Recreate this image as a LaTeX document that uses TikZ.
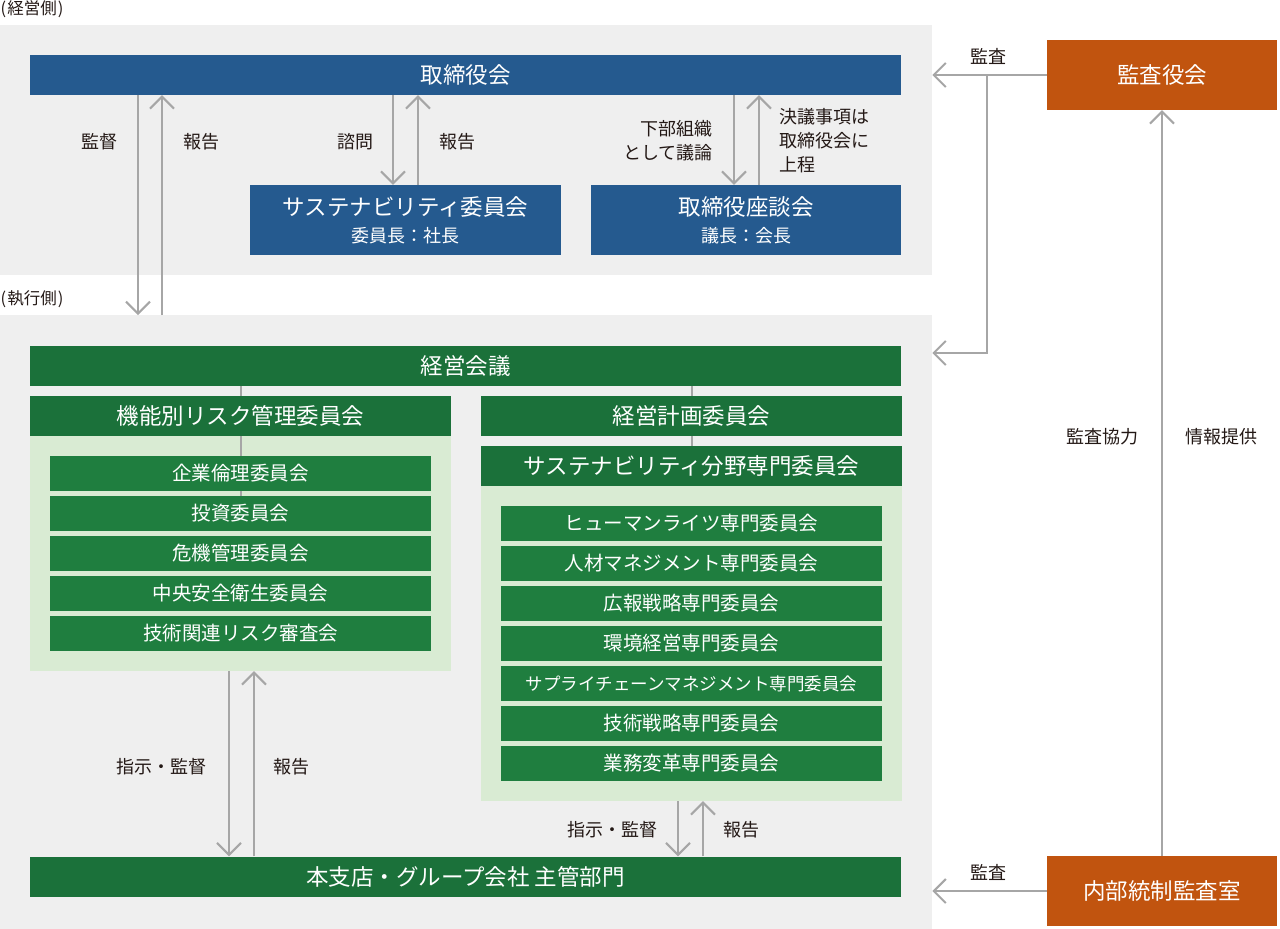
\documentclass[tikz,border=0pt]{standalone}
\usepackage{fontspec}
\setmainfont{Noto Sans CJK JP}
\usetikzlibrary{arrows.meta}
\definecolor{blueb}{HTML}{255A8F}
\definecolor{greenbar}{HTML}{1B713A}
\definecolor{greenin}{HTML}{1F7E3F}
\definecolor{lightg}{HTML}{D9EBD3}
\definecolor{panelg}{HTML}{EFEFEF}
\definecolor{orangeb}{HTML}{C1540F}
\definecolor{arrowg}{HTML}{A6A6A6}
\definecolor{txt}{HTML}{231815}
\tikzset{
  box/.style={rectangle, inner sep=0pt, text=white},
  bigf/.style={font=\fontsize{22.5}{27}\selectfont},
  innf/.style={font=\fontsize{19.5}{23}\selectfont},
  panel/.style={rectangle, inner sep=0pt, fill=panelg, anchor=north west},
  lpanel/.style={rectangle, inner sep=0pt, fill=lightg},
  bluebox/.style={box, bigf, fill=blueb},
  orbox/.style={box, bigf, fill=orangeb, minimum width=230pt, minimum height=70pt},
  gbar/.style={box, bigf, fill=greenbar, minimum height=40pt},
  gin/.style={box, innf, fill=greenin, minimum width=381pt, minimum height=35pt},
  lbl/.style={inner sep=0pt, text=txt, font=\fontsize{18}{24}\selectfont},
  side/.style={inner sep=0pt, text=txt, font=\fontsize{16.5}{18}\selectfont, anchor=west},
  arr/.style={draw=arrowg, line width=2pt, -{Straight Barb[length=12pt,width=24pt]}},
  conn/.style={draw=arrowg, line width=2pt}
}
\begin{document}
\begin{tikzpicture}[x=1pt,y=-1pt]
\useasboundingbox (0,0) rectangle (1280,929);
% panels
\node[panel, minimum width=932pt, minimum height=250pt] (toppanel) at (0,25) {};
\node[panel, minimum width=932pt, minimum height=614pt] (botpanel) at (0,315) {};
\node[side] (keieigawa) at (0.5,9) {(\kern1pt 経営側\kern1pt)};
\node[side] (shikkogawa) at (0.5,299) {(\kern1pt 執行側\kern1pt)};
% board level
\node[bluebox, minimum width=871pt, minimum height=40pt] (tori) at (465.5,75) {取締役会};
\node[bluebox, minimum width=311pt, minimum height=70pt, align=center] (sus) at (405.5,220)
  {サステナビリティ委員会\\{\fontsize{18}{20}\selectfont 委員長：社長}};
\node[bluebox, minimum width=310pt, minimum height=70pt, align=center] (zadan) at (746,220)
  {取締役座談会\\{\fontsize{18}{20}\selectfont 議長：会長}};
\node[orbox] (kansayaku) at (1162,75) {監査役会};
\node[orbox] (naibu) at (1162,891) {内部統制監査室};
% executive
\node[gbar, minimum width=871pt] (keieikaigi) at (465.5,366) {経営会議};
\node[gbar, minimum width=421pt] (kinou) at (240.5,416) {機能別リスク管理委員会};
\node[lpanel, minimum width=421pt, minimum height=235pt] (lp1) at (240.5,553.5) {};
\node[gin] (k1) at (240.5,473.5) {企業倫理委員会};
\node[gin] (k2) at (240.5,513.5) {投資委員会};
\node[gin] (k3) at (240.5,553.5) {危機管理委員会};
\node[gin] (k4) at (240.5,593.5) {中央安全衛生委員会};
\node[gin] (k5) at (240.5,633.5) {技術関連リスク審査会};
\node[gbar, minimum width=421pt] (keikaku) at (691.5,416) {経営計画委員会};
\node[gbar, minimum width=421pt] (sushead) at (691.5,466) {サステナビリティ分野専門委員会};
\node[lpanel, minimum width=421pt, minimum height=315pt] (lp2) at (691.5,643.5) {};
\node[gin] (s1) at (691.5,523.5) {ヒューマンライツ専門委員会};
\node[gin] (s2) at (691.5,563.5) {人材マネジメント専門委員会};
\node[gin] (s3) at (691.5,603.5) {広報戦略専門委員会};
\node[gin] (s4) at (691.5,643.5) {環境経営専門委員会};
\node[gin, font=\fontsize{17.5}{21}\selectfont] (s5) at (691.5,683.5) {サプライチェーンマネジメント専門委員会};
\node[gin] (s6) at (691.5,723.5) {技術戦略専門委員会};
\node[gin] (s7) at (691.5,763.5) {業務変革専門委員会};
\node[gbar, minimum width=871pt] (honshi) at (465.5,876.5) {本支店・グループ会社 主管部門};
% column coordinates
\coordinate (x138) at (138,0);
\coordinate (x162) at (162,0);
\coordinate (x393) at (393,0);
\coordinate (x418) at (418,0);
\coordinate (x734) at (734,0);
\coordinate (x759) at (759,0);
\coordinate (x229) at (229,0);
\coordinate (x254) at (254,0);
\coordinate (x678) at (678,0);
\coordinate (x703) at (703,0);
\coordinate (brtop) at (987,75);
\coordinate (brbot) at (987,353);
% plain connectors
\draw[conn] (keieikaigi.south -| kinou.north) -- (kinou.north);
\draw[conn] (kinou.south) -- (k1.north);
\draw[conn] (k1.south) -- (k2.north);
\draw[conn] (keieikaigi.south -| keikaku.north) -- (keikaku.north);
\draw[conn] (keikaku.south) -- (sushead.north);
% arrows
\draw[arr] (tori.south -| x138) -- (botpanel.north -| x138);
\draw[arr] (botpanel.north -| x162) -- (tori.south -| x162);
\draw[arr] (tori.south -| x393) -- (sus.north -| x393);
\draw[arr] (sus.north -| x418) -- (tori.south -| x418);
\draw[arr] (tori.south -| x734) -- (zadan.north -| x734);
\draw[arr] (zadan.north -| x759) -- (tori.south -| x759);
\draw[arr] (kansayaku.west) -- (toppanel.east |- kansayaku.west);
\draw[arr] (brtop) -- (brbot) -- (botpanel.east |- brbot);
\draw[arr] (naibu.west) -- (botpanel.east |- naibu.west);
\draw[arr] (naibu.north) -- (kansayaku.south);
\draw[arr] (lp1.south -| x229) -- (honshi.north -| x229);
\draw[arr] (honshi.north -| x254) -- (lp1.south -| x254);
\draw[arr] (lp2.south -| x678) -- (honshi.north -| x678);
\draw[arr] (honshi.north -| x703) -- (lp2.south -| x703);
% labels
\node[lbl] (l1) at (99,142) {監督};
\node[lbl] (l2) at (201,142) {報告};
\node[lbl] (l3) at (355,142) {諮問};
\node[lbl] (l4) at (457,142) {報告};
\node[lbl, anchor=east, align=right] (l5) at (713,141) {下部組織\\として議論};
\node[lbl, anchor=west, align=left] (l6) at (779,141) {決議事項は\\取締役会に\\上程};
\node[lbl] (l7) at (988,56) {監査};
\node[lbl] (l8) at (988,872) {監査};
\node[lbl] (l9) at (1102,437) {監査協力};
\node[lbl] (l10) at (1221,437) {情報提供};
\node[lbl] (l11) at (161,767) {指示・監督};
\node[lbl] (l12) at (291,767) {報告};
\node[lbl] (l13) at (612,830) {指示・監督};
\node[lbl] (l14) at (741,830) {報告};
\end{tikzpicture}
\end{document}
